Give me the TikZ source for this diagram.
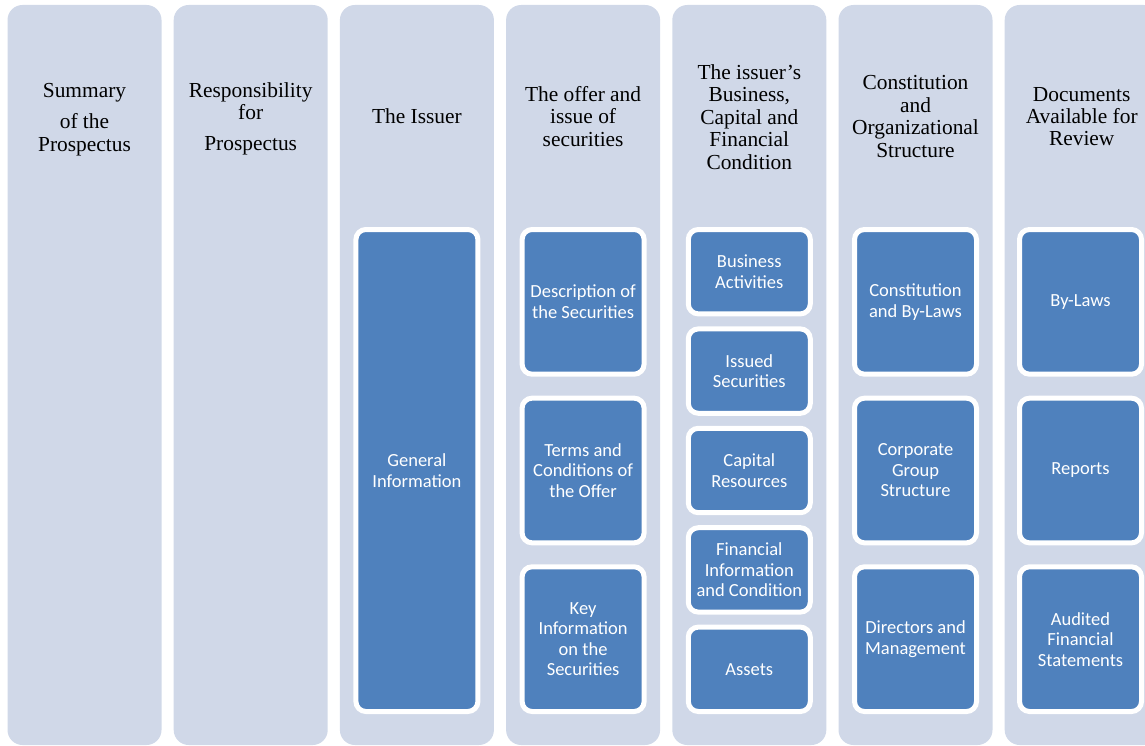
\documentclass[tikz,border=0pt]{standalone}
\usepackage{fontspec}
\setmainfont{Liberation Serif}
\newfontfamily\boxfont{Carlito}
\definecolor{colbg}{HTML}{D0D8E8}
\definecolor{boxblue}{HTML}{4F81BD}
\begin{document}
\begin{tikzpicture}[x=1pt,y=-1pt,
  colbox/.style={fill=colbg, rounded corners=15pt, minimum width=154pt, minimum height=740pt, inner sep=0pt},
  hdr/.style={font=\fontsize{21.4}{22.4}\selectfont, align=center, text=black, inner sep=0pt},
  blk/.style={fill=boxblue, draw=white, line width=5pt, rounded corners=10pt, text=white, font=\boxfont\fontsize{18.5}{20.5}\selectfont, align=center, minimum width=122pt, inner sep=0pt},
  tall/.style={blk, minimum height=482pt},
  third/.style={blk, minimum height=144.7pt},
  fifth/.style={blk, minimum height=84.4pt}]
\useasboundingbox (0,0) rectangle (1145,746);
\clip (0,0) rectangle (1145,746);
% columns
\node[colbox] (c1) at (84.5,375) {};
\node[colbox] (c2) at (250.7,375) {};
\node[colbox] (c3) at (416.9,375) {};
\node[colbox] (c4) at (583.1,375) {};
\node[colbox] (c5) at (749.3,375) {};
\node[colbox] (c6) at (915.5,375) {};
\node[colbox] (c7) at (1081.7,375) {};
% headers
\node[hdr] (h1) at (84.5,119.5) {Summary\\[8.6pt]of the\\Prospectus};
\node[hdr] (h2) at (250.7,119) {Responsibility\\for\\[8.6pt]Prospectus};
\node[hdr] (h3) at (416.9,116.5) {The Issuer};
\node[hdr] (h4) at (583.1,116.5) {The offer and\\issue of\\securities};
\node[hdr] (h5) at (749.3,117) {The issuer’s\\Business,\\Capital and\\Financial\\Condition};
\node[hdr] (h6) at (915.5,116.5) {Constitution\\and\\Organizational\\Structure};
\node[hdr] (h7) at (1081.7,116.5) {Documents\\Available for\\Review};
% column 3
\node[tall] (b31) at (416.9,470.5) {General\\Information};
% column 4
\node[third] (b41) at (583.1,301.85) {Description of\\the Securities};
\node[third] (b42) at (583.1,470.5) {Terms and\\Conditions of\\the Offer};
\node[third] (b43) at (583.1,639.15) {Key\\Information\\on the\\Securities};
% column 5
\node[fifth] (b51) at (749.3,271.7) {Business\\Activities};
\node[fifth] (b52) at (749.3,371.1) {Issued\\Securities};
\node[fifth] (b53) at (749.3,470.5) {Capital\\Resources};
\node[fifth] (b54) at (749.3,569.9) {Financial\\Information\\and Condition};
\node[fifth] (b55) at (749.3,669.3) {Assets};
% column 6
\node[third] (b61) at (915.5,301.85) {Constitution\\and By-Laws};
\node[third] (b62) at (915.5,470.5) {Corporate\\Group\\Structure};
\node[third] (b63) at (915.5,639.15) {Directors and\\Management};
% column 7
\node[third] (b71) at (1080.5,301.85) {By-Laws};
\node[third] (b72) at (1080.5,470.5) {Reports};
\node[third] (b73) at (1080.5,639.15) {Audited\\Financial\\Statements};
\end{tikzpicture}
\end{document}
